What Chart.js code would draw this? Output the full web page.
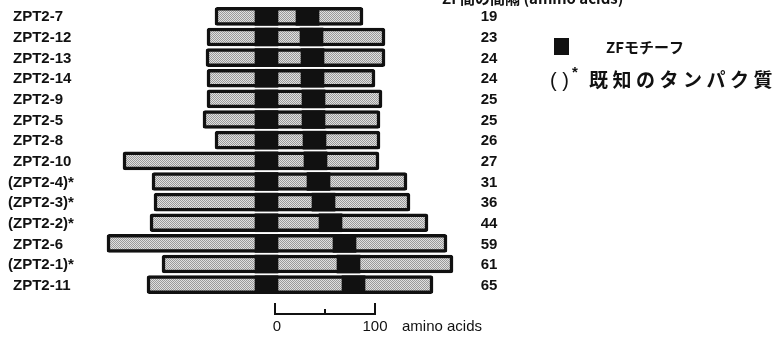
<!DOCTYPE html>
<html>
<head>
<meta charset="utf-8">
<script src="https://cdn.jsdelivr.net/npm/chart.js@4"></script>
<style>
  body { margin: 0; background: #fff; }
  canvas { display: block; }
</style>
</head>
<body>
<canvas id="zfchart" width="780" height="339"></canvas>
<script>
// proteins, top to bottom
const proteins = ['ZPT2-7', 'ZPT2-12', 'ZPT2-13', 'ZPT2-14', 'ZPT2-9', 'ZPT2-5', 'ZPT2-8',
  'ZPT2-10', '(ZPT2-4)*', '(ZPT2-3)*', '(ZPT2-2)*', 'ZPT2-6', '(ZPT2-1)*', 'ZPT2-11'];
// spacing between the two ZF motifs (amino acids)
const zfSpacing = [19, 23, 24, 24, 25, 25, 26, 27, 31, 36, 44, 59, 61, 65];
// protein extent, amino acids relative to the scale bar 0
const proteinStart = [-60, -68, -69, -68, -68, -72, -60, -152, -123, -121, -125, -168, -113, -128];
const proteinEnd = [88, 110, 110, 100, 107, 105, 105, 104, 132, 135, 153, 172, 178, 158];
// ZF motifs
const zf1Start = [-20, -20, -20, -20, -20, -20, -20, -20, -20, -20, -20, -20, -20, -20];
const zf1End = [3, 3, 3, 3, 3, 3, 3, 3, 3, 3, 3, 3, 3, 3];
const zf2Start = [21, 25, 26, 26, 27, 27, 28, 29, 32, 37, 44, 58, 62, 67];
const zf2End = [44, 48, 49, 49, 50, 50, 51, 52, 55, 60, 67, 81, 85, 90];
// scale bar ticks
const scaleTicks = [0, 100];

const latin = '"Liberation Sans", Arial, sans-serif';
const cjk = '"Noto Sans CJK JP", "Liberation Sans", sans-serif';

// stippled grey fill like the printed figure
function stipple() {
  var c = document.createElement('canvas');
  c.width = 2; c.height = 2;
  var g = c.getContext('2d');
  g.fillStyle = '#e0e0e0'; g.fillRect(0, 0, 2, 2);
  g.fillStyle = '#9a9a9a'; g.fillRect(0, 0, 1, 1); g.fillRect(1, 1, 1, 1);
  return g.createPattern(c, 'repeat');
}

const textPlugin = {
  id: 'figText',
  afterDraw(chart) {
    var ctx = chart.ctx;
    var x = chart.scales.x, y = chart.scales.y;
    ctx.save();
    ctx.fillStyle = '#111';
    ctx.textBaseline = 'middle';

    // protein names, "ZPT2" aligned, parenthesis hanging left
    ctx.font = 'bold 15px ' + latin;
    ctx.textAlign = 'left';
    proteins.forEach(function(name, i) {
      var px = 13;
      if (name[0] === '(') px -= ctx.measureText('(').width;
      ctx.fillText(name, px, y.getPixelForValue(i) + 1);
    });

    // spacing numbers
    ctx.textAlign = 'center';
    zfSpacing.forEach(function(v, i) {
      ctx.fillText(String(v), 489, y.getPixelForValue(i) + 1);
    });

    // column header (cut by the top edge)
    ctx.textAlign = 'left';
    ctx.textBaseline = 'alphabetic';
    ctx.font = 'bold 15px ' + cjk;
    ctx.fillText('ZF間の間隔 (amino acids)', 442, 4);

    // scale bar
    var x0 = x.getPixelForValue(scaleTicks[0]);
    var x1 = x.getPixelForValue(scaleTicks[1]);
    var xm = x.getPixelForValue((scaleTicks[0] + scaleTicks[1]) / 2);
    ctx.strokeStyle = '#111';
    ctx.lineWidth = 2;
    ctx.beginPath();
    ctx.moveTo(x0, 303); ctx.lineTo(x0, 314); ctx.lineTo(x1, 314); ctx.lineTo(x1, 303);
    ctx.moveTo(xm, 309); ctx.lineTo(xm, 314);
    ctx.stroke();
    ctx.font = '15px ' + latin;
    ctx.textAlign = 'center';
    ctx.textBaseline = 'middle';
    ctx.fillText(String(scaleTicks[0]), x0 + 2, 327);
    ctx.fillText(String(scaleTicks[1]), x1, 327);
    ctx.textAlign = 'left';
    ctx.fillText('amino acids', x1 + 27, 327);

    // legend
    ctx.fillStyle = '#111';
    ctx.fillRect(554, 38, 15, 17);
    ctx.font = 'bold 15px ' + cjk;
    ctx.fillText('ZFモチーフ', 606, 47);
    ctx.font = '20px ' + latin;
    ctx.fillText('( )', 550, 81);
    ctx.font = 'bold 15px ' + latin;
    ctx.fillText('*', 572, 73);
    ctx.font = 'bold 19px ' + cjk;
    var label = '既知のタンパク質';
    for (var k = 0; k < label.length; k++) {
      ctx.fillText(label[k], 589 + k * 23.5, 80);
    }
    ctx.restore();
  }
};

const ctx = document.getElementById('zfchart').getContext('2d');
new Chart(ctx, {
  type: 'bar',
  data: {
    labels: proteins,
    datasets: [{
      label: 'protein',
      data: proteinStart.map((s, i) => [s, proteinEnd[i]]),
      backgroundColor: stipple(),
      borderColor: '#111',
      borderWidth: 3.5,
      borderSkipped: false,
      borderRadius: 2.5,
      barThickness: 18,
      grouped: false,
      order: 1
    }, {
      label: 'ZF1',
      data: zf1Start.map((s, i) => [s, zf1End[i]]),
      backgroundColor: '#111',
      borderWidth: 0,
      barThickness: 18,
      grouped: false,
      order: 0
    }, {
      label: 'ZF2',
      data: zf2Start.map((s, i) => [s, zf2End[i]]),
      backgroundColor: '#111',
      borderWidth: 0,
      barThickness: 18,
      grouped: false,
      order: 0
    }]
  },
  options: {
    indexAxis: 'y',
    responsive: false,
    animation: false,
    devicePixelRatio: 1,
    layout: { padding: { left: 100, right: 310, top: 6, bottom: 44 } },
    plugins: { legend: { display: false }, tooltip: { enabled: false } },
    scales: {
      x: { type: 'linear', min: -175, max: 195, display: false },
      y: { display: false }
    }
  },
  plugins: [textPlugin]
});
</script>
</body>
</html>
